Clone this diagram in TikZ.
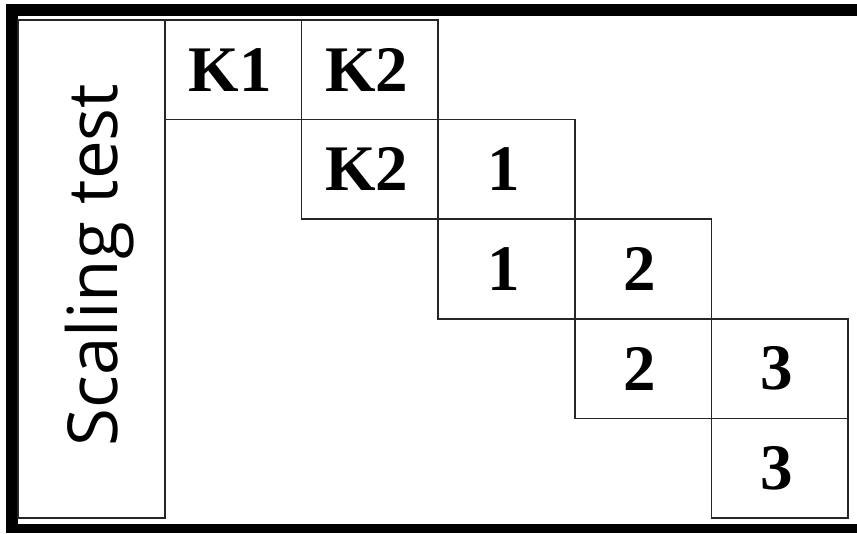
\documentclass[tikz,border=0pt]{standalone}
\usepackage{fontspec}
\setmainfont{Liberation Serif}
\newfontfamily\labelsans{Open Sans}
\begin{document}
\begin{tikzpicture}[x=1pt,y=-1pt,
  cell/.style={draw=black!85, line width=1.6pt, minimum width=136.6pt, minimum height=99.6pt, inner sep=0pt, outer sep=0pt},
  num/.style={font=\fontsize{65}{65}\selectfont\bfseries, inner sep=0pt, xshift=-3pt},
  frame/.style={fill=black, draw=none}]
\useasboundingbox (0,0) rectangle (857,533);
\fill[white] (0,0) rectangle (857,533);
% black frame
\fill[frame] (6,4) rectangle (857,16);
\fill[frame] (6,4) rectangle (18,533);
\fill[frame] (6,524) rectangle (857,533);
% left header column
\node[draw=black!85, line width=1.6pt, minimum width=147pt, minimum height=498pt, inner sep=0pt] (head) at (91.5,269) {};
\node[font=\labelsans\fontsize{69}{69}\selectfont, rotate=90, anchor=base, inner sep=0pt] (headtxt) at (117,265) {Scaling test};
% cells (row, col)
\node[cell] (c11) at (233.3,69.8) {};
\node[cell] (c12) at (369.9,69.8) {};
\node[cell] (c22) at (369.9,169.4) {};
\node[cell] (c23) at (506.5,169.4) {};
\node[cell] (c33) at (506.5,269.0) {};
\node[cell] (c34) at (643.1,269.0) {};
\node[cell] (c44) at (643.1,368.6) {};
\node[cell] (c45) at (779.7,368.6) {};
\node[cell] (c55) at (779.7,468.2) {};
% labels
\node[num] (t11) at (c11.center) {K1};
\node[num] (t12) at (c12.center) {K2};
\node[num] (t22) at (c22.center) {K2};
\node[num] (t23) at (c23.center) {1};
\node[num] (t33) at (c33.center) {1};
\node[num] (t34) at (c34.center) {2};
\node[num] (t44) at (c44.center) {2};
\node[num] (t45) at (c45.center) {3};
\node[num] (t55) at (c55.center) {3};
\end{tikzpicture}
\end{document}
